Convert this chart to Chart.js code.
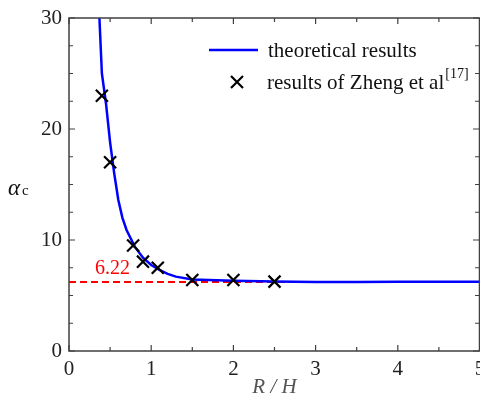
<!DOCTYPE html>
<html>
<head>
<meta charset="utf-8">
<script src="https://cdn.jsdelivr.net/npm/chart.js@4.4.1/dist/chart.umd.min.js"></script>
<style>
  html, body { margin: 0; padding: 0; background: #fff; }
  #wrap { width: 480px; height: 397px; }
</style>
</head>
<body>
<div id="wrap"><canvas id="alphaChart"></canvas></div>
<script>
// theoretical curve
const curveX = [0.37, 0.40, 0.45, 0.50, 0.55, 0.60, 0.65, 0.70, 0.80, 0.90, 1.00, 1.10, 1.20, 1.30, 1.50, 2.00, 2.50, 3.00, 3.50, 4.00, 4.50, 5.00];
const curveY = [30, 25, 22.3, 18.8, 16, 13.6, 12.0, 10.9, 9.4, 8.4, 7.75, 7.3, 6.95, 6.7, 6.45, 6.32, 6.26, 6.22, 6.22, 6.24, 6.24, 6.24];
// results of Zheng et al
const zhengX = [0.4, 0.5, 0.78, 0.9, 1.08, 1.5, 2.0, 2.5];
const zhengY = [23, 17, 9.5, 8.05, 7.5, 6.4, 6.4, 6.25];
// asymptote
const refValue = 6.22;
const xTicks = [0, 1, 2, 3, 4, 5];
const yTicks = [0, 10, 20, 30];

const serif = "'Liberation Serif', 'DejaVu Serif', serif";
const frameColor = "#404040";

const toPoints = (xs, ys) => xs.map((x, i) => ({ x: x, y: ys[i] }));

const framePlugin = {
  id: "frame",
  afterDraw(chart) {
    const ctx = chart.ctx;
    const xs = chart.scales.x;
    const ys = chart.scales.y;
    const a = chart.chartArea;
    ctx.save();
    ctx.strokeStyle = frameColor;
    ctx.lineWidth = 1.5;
    ctx.strokeRect(a.left, a.top, a.right - a.left - 0.5, a.bottom - a.top);

    // inward ticks on all four sides
    ctx.lineWidth = 1.2;
    for (let v = 0; v <= 5.001; v += 0.5) {
      const px = xs.getPixelForValue(v);
      const len = Math.abs(v - Math.round(v)) < 0.01 ? 6 : 4;
      ctx.beginPath();
      ctx.moveTo(px, a.bottom);
      ctx.lineTo(px, a.bottom - len);
      ctx.moveTo(px, a.top);
      ctx.lineTo(px, a.top + len);
      ctx.stroke();
    }
    for (let v = 0; v <= 30.001; v += 2.5) {
      const py = ys.getPixelForValue(v);
      const len = v % 10 === 0 ? 6 : 4;
      ctx.beginPath();
      ctx.moveTo(a.left, py);
      ctx.lineTo(a.left + len, py);
      ctx.moveTo(a.right - 1, py);
      ctx.lineTo(a.right - 1 - len, py);
      ctx.stroke();
    }

    // 6.22 label
    ctx.fillStyle = "#ff0000";
    ctx.font = "20px " + serif;
    ctx.textAlign = "center";
    ctx.textBaseline = "middle";
    ctx.fillText("6.22", xs.getPixelForValue(0.53), ys.getPixelForValue(refValue) - 13);

    // y axis title: alpha_c
    ctx.fillStyle = "#111";
    ctx.textAlign = "left";
    ctx.textBaseline = "alphabetic";
    ctx.font = "italic 23px " + serif;
    ctx.fillText("α", 8, 195);
    ctx.font = "15px " + serif;
    ctx.fillText("c", 22, 195);

    // legend
    ctx.strokeStyle = "#0000ff";
    ctx.lineWidth = 2.5;
    ctx.beginPath();
    ctx.moveTo(209, 50);
    ctx.lineTo(258, 50);
    ctx.stroke();
    ctx.strokeStyle = "#000";
    ctx.lineWidth = 2.2;
    ctx.beginPath();
    ctx.moveTo(231, 76);
    ctx.lineTo(243, 88);
    ctx.moveTo(243, 76);
    ctx.lineTo(231, 88);
    ctx.stroke();
    ctx.fillStyle = "#111";
    ctx.font = "21px " + serif;
    ctx.fillText("theoretical results", 268, 57);
    ctx.fillText("results of Zheng et al", 267, 89);
    const w = ctx.measureText("results of Zheng et al").width;
    ctx.font = "14px " + serif;
    ctx.fillText("[17]", 267 + w + 1, 78);
    ctx.restore();
  },
};

new Chart(document.getElementById("alphaChart"), {
  type: "scatter",
  data: {
    datasets: [
      {
        label: "results of Zheng et al",
        data: toPoints(zhengX, zhengY),
        pointStyle: "crossRot",
        radius: 8.5,
        borderColor: "#000",
        borderWidth: 2.2,
        showLine: false,
      },
      {
        label: "theoretical results",
        data: toPoints(curveX, curveY),
        showLine: true,
        borderColor: "#0000ff",
        borderWidth: 2.5,
        pointRadius: 0,
        tension: 0,
      },
      {
        label: "6.22",
        data: [{ x: 0, y: refValue }, { x: 5, y: refValue }],
        showLine: true,
        borderColor: "#ff0000",
        borderWidth: 2,
        borderDash: [7, 4],
        pointRadius: 0,
      },
    ],
  },
  options: {
    responsive: true,
    maintainAspectRatio: false,
    animation: false,
    layout: { autoPadding: false, padding: { top: 18, right: 0, left: 0, bottom: 0 } },
    plugins: {
      legend: { display: false },
      tooltip: { enabled: false },
    },
    scales: {
      x: {
        type: "linear",
        min: 0,
        max: 5,
        grid: { display: false, drawTicks: false },
        border: { display: false },
        afterBuildTicks: (scale) => {
          scale.ticks = xTicks.map((v) => ({ value: v }));
        },
        afterFit: (scale) => {
          scale.height = 46;
          scale.paddingLeft = 0;
          scale.paddingRight = 0;
        },
        ticks: {
          color: "#222",
          padding: 6,
          maxRotation: 0,
          font: { family: serif, size: 21 },
        },
        title: {
          display: true,
          text: "R / H",
          color: "#555",
          padding: { top: 0, bottom: 0 },
          font: { family: serif, size: 21, style: "italic", lineHeight: 0.9 },
        },
      },
      y: {
        type: "linear",
        min: 0,
        max: 30,
        grid: { display: false, drawTicks: false },
        border: { display: false },
        afterBuildTicks: (scale) => {
          scale.ticks = yTicks.map((v) => ({ value: v }));
        },
        afterFit: (scale) => {
          scale.width = 69;
          scale.paddingTop = 0;
          scale.paddingBottom = 0;
        },
        ticks: {
          color: "#222",
          padding: 7,
          font: { family: serif, size: 21 },
        },
      },
    },
  },
  plugins: [framePlugin],
});
</script>
</body>
</html>
